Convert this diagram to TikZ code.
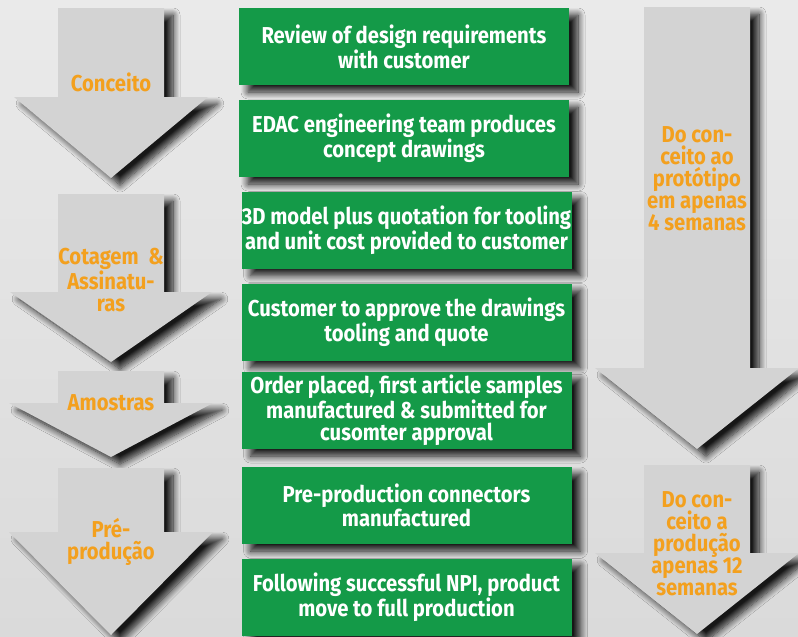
\documentclass[tikz,border=0pt]{standalone}
\usepackage{fontspec}
\setmainfont{Fira Sans}[FakeStretch=0.88]
\usetikzlibrary{shadows.blur}
\definecolor{taskgreen}{RGB}{20,154,72}
\definecolor{phaseorange}{RGB}{243,160,30}
\definecolor{arrowgray}{RGB}{211,211,211}
\definecolor{backlight}{RGB}{234,234,234}
\definecolor{backdark}{RGB}{218,218,218}

\begin{document}
\begin{tikzpicture}[x=1pt,y=-1pt]
	\tikzstyle {soft shadow} = [blur shadow={shadow xshift=9pt, shadow yshift=-7pt, shadow blur radius=7pt, shadow blur steps=10, shadow opacity=90}]
	\tikzstyle {task box} = [soft shadow, fill=taskgreen, text=white, align=center, inner sep=0pt,
		minimum width=330pt, minimum height=77pt, font=\bfseries\fontsize{23}{22.5}\selectfont]
	\tikzstyle {phase arrow} = [soft shadow, fill=arrowgray]
	\tikzstyle {phase label} = [text=phaseorange, align=center, inner sep=0pt, font=\bfseries\fontsize{23}{22}\selectfont]

	\useasboundingbox (0,0) rectangle (798,637);
	\shade[top color=backlight, bottom color=backdark] (0,0) rectangle (798,637);

	% block arrows: centre / top / neck / tip / half width of head
	\foreach \cx/\top/\neck/\tip/\hw in {111/8/97/178/97, 111/194/292/362/101, 111/371/403/457/102,
		111/468/532/635/102, 697/7/368/449/102, 697/465/553/634/102}
	{
		\pgfmathsetmacro{\l}{\cx - 53}
		\pgfmathsetmacro{\r}{\cx + 53}
		\pgfmathsetmacro{\hl}{\cx - \hw}
		\pgfmathsetmacro{\hr}{\cx + \hw}

		\path[phase arrow] (\l,\top) -- (\r,\top) -- (\r,\neck) -- (\hr,\neck)
			-- (\cx,\tip) -- (\hl,\neck) -- (\l,\neck) -- cycle;
	}

	% phases
	\node[phase label] (conceito) at (111, 82) {Conceito};
	\node[phase label] (cotagem) at (111, 280) {Cotagem~~\&\\Assinatu-\\ras};
	\node[phase label] (amostras) at (111, 403) {Amostras};
	\node[phase label] (preproducao) at (111, 542) {Pré-\\produção};

	\node[phase label] (prototipo) at (697, 179) {Do con-\\ceito ao\\protótipo\\em apenas\\4 semanas};
	\node[phase label] (producao) at (697, 544) {Do con-\\ceito a\\produção\\apenas 12\\semanas};

	% tasks
	\node[task box] (review) at (404, 46.5) {Review of design requirements\\with customer};
	\node[task box] (concept) at (404, 138.5) {EDAC engineering team produces\\concept drawings};
	\node[task box] (model) at (406.5, 230) {3D model plus quotation for tooling\\and unit cost provided to customer};
	\node[task box] (approve) at (406.5, 322) {Customer to approve the drawings\\tooling and quote};
	\node[task box] (order) at (406.5, 410.5) {Order placed, first article samples\\manufactured \& submitted for\\cusomter approval};
	\node[task box] (preprod) at (406.5, 505.5) {Pre-production connectors\\manufactured};
	\node[task box] (full) at (406.5, 597) {Following successful NPI, product\\move to full production};

\end{tikzpicture}
\end{document}
